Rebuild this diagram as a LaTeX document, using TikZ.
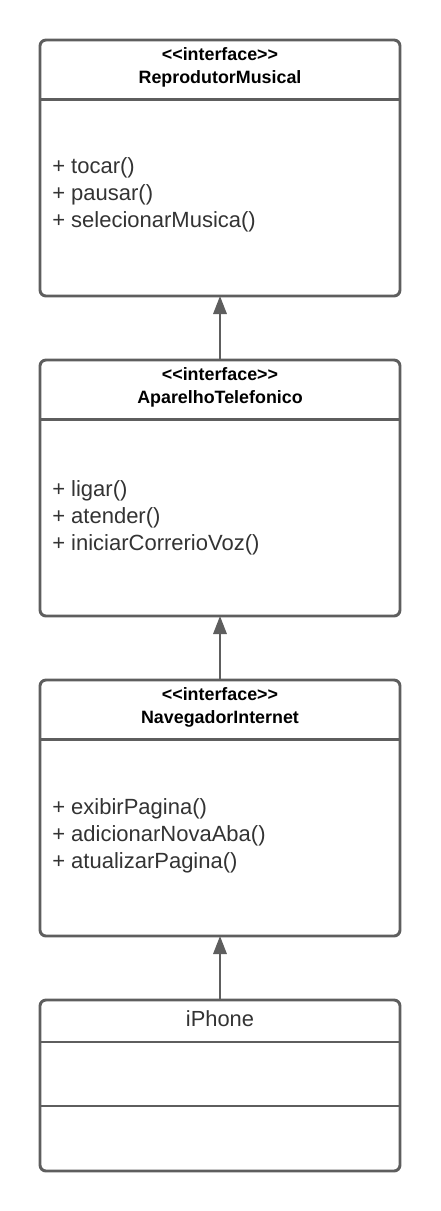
\documentclass[tikz,border=0pt]{standalone}
\usepackage{fontspec}
\setmainfont{Liberation Sans}
\usetikzlibrary{arrows.meta}
\definecolor{linec}{HTML}{5E5E5E}
\definecolor{textc}{HTML}{333333}
\newcommand{\stereo}{<\kern0pt<interface>\kern0pt>}
\begin{document}
\begin{tikzpicture}[x=0.75pt,y=-0.75pt,
  cbox/.style={draw=linec,line width=2.2pt,rounded corners=4.5pt,fill=white},
  divline/.style={draw=linec,line width=2.2pt},
  hdr/.style={anchor=center,inner sep=0pt,font=\fontsize{13.4pt}{17.2pt}\selectfont\bfseries,text=black,align=center},
  meth/.style={anchor=west,inner sep=0pt,font=\fontsize{16.5pt}{20.25pt}\selectfont,text=textc,align=left},
  inh/.style={draw=linec,line width=1.7pt,-{Triangle[length=13.5pt,width=10pt]}}]
\useasboundingbox[fill=white] (0,0) rectangle (440,1211);
% box 1
\draw[cbox] (40,40) rectangle (400,296);
\coordinate (b1top) at (220,40);\coordinate (b1bot) at (220,296);
\draw[divline] (40,99.5) -- (400,99.5);
\node[hdr] (h1) at (220,67) {\stereo\\ReprodutorMusical};
\node[meth] (m1) at (52,195) {+ tocar()\\+ pausar()\\+ selecionarMusica()};
% box 2
\draw[cbox] (40,360) rectangle (400,616);
\coordinate (b2top) at (220,360);\coordinate (b2bot) at (220,616);
\draw[divline] (40,419.5) -- (400,419.5);
\node[hdr] (h2) at (220,387) {\stereo\\AparelhoTelefonico};
\node[meth] (m2) at (52,518) {+ ligar()\\+ atender()\\+ iniciarCorrerioVoz()};
% box 3
\draw[cbox] (40,680) rectangle (400,936);
\coordinate (b3top) at (220,680);\coordinate (b3bot) at (220,936);
\draw[divline] (40,739.5) -- (400,739.5);
\node[hdr] (h3) at (220,707) {\stereo\\NavegadorInternet};
\node[meth] (m3) at (52,836) {+ exibirPagina()\\+ adicionarNovaAba()\\+ atualizarPagina()};
% box 4
\draw[cbox] (40,1000) rectangle (400,1171);
\coordinate (b4top) at (220,1000);
\draw[divline] (40,1042) -- (400,1042);
\draw[divline] (40,1106) -- (400,1106);
\node[anchor=center,inner sep=0pt,font=\fontsize{16.4pt}{19pt}\selectfont,text=textc] (h4) at (220,1019) {iPhone};
% arrows
\draw[inh] (b2top) -- (b1bot);
\draw[inh] (b3top) -- (b2bot);
\draw[inh] (b4top) -- (b3bot);
\end{tikzpicture}
\end{document}
